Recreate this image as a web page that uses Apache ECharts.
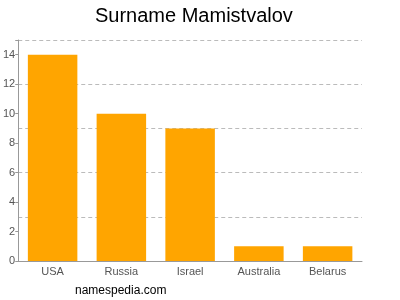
<!DOCTYPE html>
<html>
<head>
<meta charset="utf-8">
<script src="https://cdn.jsdelivr.net/npm/echarts@6/dist/echarts.min.js"></script>
<style>html,body{margin:0;padding:0;background:#fff}#c{width:400px;height:300px}</style>
</head>
<body>
<div id="c"></div>
<script>
const categories = ["USA", "Russia", "Israel", "Australia", "Belarus"];
const counts = [14, 10, 9, 1, 1];
const yTicks = [0, 2, 4, 6, 8, 10, 12, 14];
const gridValues = [3, 6, 9, 12, 15];

const chart = echarts.init(document.getElementById('c'), null, {renderer: 'canvas'});
chart.setOption({
  animation: false,
  backgroundColor: '#fff',
  title: {
    text: 'Surname Mamistvalov',
    left: 90, top: 1,
    textStyle: {fontFamily: 'Liberation Sans, Arial, sans-serif', fontSize: 20, fontWeight: 'normal', color: '#000'}
  },
  graphic: [{
    type: 'text', left: 75, top: 285,
    style: {text: 'namespedia.com', font: '12px Liberation Sans, Arial, sans-serif', fill: '#000'}
  }],
  grid: {left: 17, right: 38, top: 40, bottom: 39, containLabel: false},
  xAxis: {
    type: 'category', data: categories,
    axisLine: {lineStyle: {color: '#999'}},
    axisTick: {alignWithLabel: true, length: 3, lineStyle: {color: '#999'}},
    axisLabel: {color: '#555', fontSize: 11, fontFamily: 'Liberation Sans, Arial, sans-serif', margin: 5}
  },
  yAxis: [{
    type: 'value', min: 0, max: 15, interval: 2,
    axisLine: {show: true, lineStyle: {color: '#999'}},
    axisTick: {show: true, length: 3, lineStyle: {color: '#999'}},
    axisLabel: {color: '#555', fontSize: 11, fontFamily: 'Liberation Sans, Arial, sans-serif', margin: 3,
      formatter: v => yTicks.includes(v) ? String(v) : ''},
    splitLine: {show: false}
  }, {
    type: 'value', min: 0, max: 15, interval: 3, position: 'left',
    axisLine: {show: false}, axisTick: {show: false}, axisLabel: {show: false},
    splitLine: {show: true, lineStyle: {color: '#bbb', type: [4, 3], width: 1}}
  }],
  series: [{
    type: 'bar', data: counts, yAxisIndex: 0,
    barWidth: '72%',
    itemStyle: {color: '#FFA500'}
  }]
});
</script>
</body>
</html>
